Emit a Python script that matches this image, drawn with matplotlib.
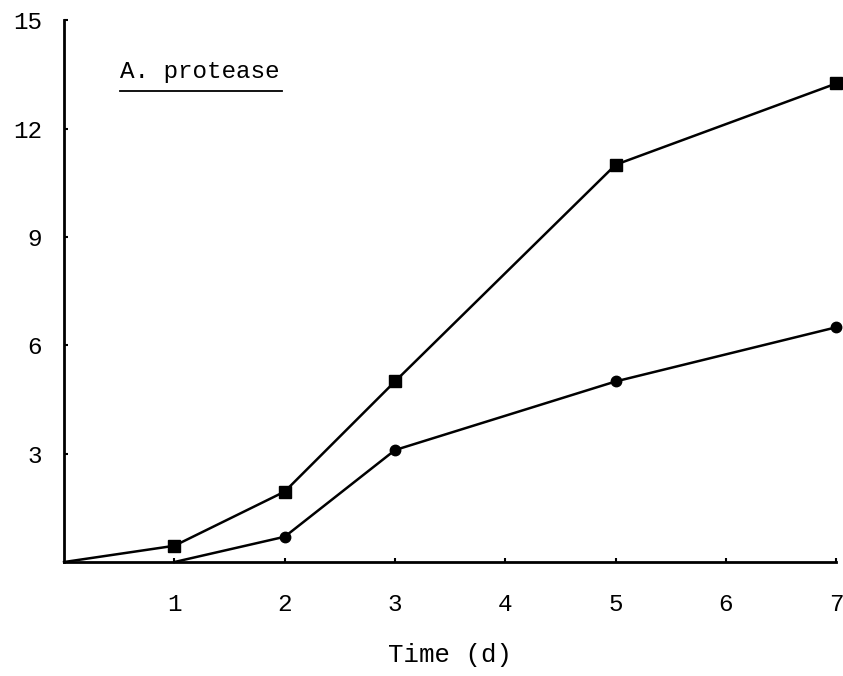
import matplotlib
matplotlib.use("Agg")
import matplotlib.pyplot as plt
from matplotlib.lines import Line2D

# data
days = [0, 1, 2, 3, 5, 7]
square_vals = [0, 0.45, 1.95, 5.0, 11.0, 13.25]
circle_days = [1, 2, 3, 5, 7]
circle_vals = [0, 0.7, 3.1, 5.0, 6.5]

xticks = [1, 2, 3, 4, 5, 6, 7]
yticks = [3, 6, 9, 12, 15]

plt.rcParams['font.family'] = ['Liberation Mono', 'DejaVu Sans Mono']

fig = plt.figure(figsize=(8.43, 6.76), dpi=100)
ax = fig.add_axes([0.076, 0.1686, 0.916, 0.8014])

ax.plot(days, square_vals, color='black', lw=1.8, marker='s', markersize=8.5,
        markevery=[1, 2, 3, 4, 5], clip_on=False)
ax.plot(circle_days, circle_vals, color='black', lw=1.8, marker='o', markersize=7.5,
        markevery=[1, 2, 3, 4], clip_on=False)

ax.set_xlim(0, 7)
ax.set_ylim(0, 15)
ax.set_xticks(xticks)
ax.set_yticks(yticks)
ax.spines['top'].set_visible(False)
ax.spines['right'].set_visible(False)
ax.spines['left'].set_linewidth(2)
ax.spines['bottom'].set_linewidth(2)
ax.tick_params(direction='in', length=3, width=1.5, labelsize=17.5, pad=22)
ax.tick_params(axis='y', pad=16)

ax.set_xlabel('Time (d)', fontsize=18.5, labelpad=20)

ax.text(0.0725, 0.885, 'A. protease', transform=ax.transAxes, fontsize=17.5,
        ha='left', va='bottom')
ax.add_line(Line2D([0.0725, 0.282], [0.869, 0.869], transform=ax.transAxes,
                   color='black', lw=1.3))

fig.savefig('out.png', dpi=100)
